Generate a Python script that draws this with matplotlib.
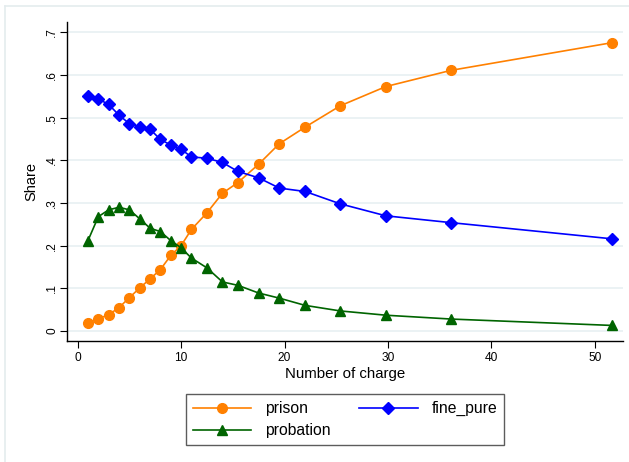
import matplotlib.pyplot as plt
from matplotlib.lines import Line2D

# mean number of charges per group
charges = [1, 2, 3, 4, 5, 6, 7, 8, 9, 10, 11, 12.5, 14, 15.5, 17.5, 19.5,
           22, 25.4, 29.8, 36.1, 51.7]

prison = [0.018, 0.029, 0.038, 0.055, 0.078, 0.101, 0.122, 0.144, 0.177, 0.200,
          0.238, 0.277, 0.323, 0.348, 0.391, 0.439, 0.478, 0.528, 0.573, 0.611, 0.676]
probation = [0.212, 0.268, 0.284, 0.290, 0.284, 0.263, 0.241, 0.233, 0.212, 0.195,
             0.171, 0.148, 0.115, 0.107, 0.089, 0.077, 0.060, 0.047, 0.037, 0.028, 0.013]
fine_pure = [0.550, 0.544, 0.531, 0.506, 0.486, 0.479, 0.473, 0.449, 0.436, 0.426,
             0.408, 0.405, 0.395, 0.374, 0.359, 0.335, 0.327, 0.298, 0.270, 0.254, 0.216]

yticks = [0, 0.1, 0.2, 0.3, 0.4, 0.5, 0.6, 0.7]
ytick_labels = ['0', '.1', '.2', '.3', '.4', '.5', '.6', '.7']
xticks = [0, 10, 20, 30, 40, 50]

plt.rcParams['font.family'] = ['Liberation Sans', 'DejaVu Sans']

fig = plt.figure(figsize=(6.29, 4.62), dpi=100)
ax = fig.add_axes([0.107, 0.2626, 0.883, 0.6904])

# light outer frame (graph region border)
frame = '#e4ecee'
fig.add_artist(Line2D([5 / 629, 5 / 629], [0, 1 - 6 / 462], color=frame, lw=1.2,
                      transform=fig.transFigure))
fig.add_artist(Line2D([5 / 629, 1], [1 - 6 / 462, 1 - 6 / 462], color=frame, lw=1.2,
                      transform=fig.transFigure))

ax.plot(charges, prison, color='#ff8000', marker='o', markersize=7, lw=1.2,
        label='prison')
ax.plot(charges, probation, color='#006400', marker='^', markersize=7.5, lw=1.2,
        label='probation')
ax.plot(charges, fine_pure, color='#0000ff', marker='D', markersize=6, lw=1.2,
        label='fine_pure')

ax.set_xlim(-1, 52.7)
ax.set_ylim(-0.0227, 0.725)
ax.set_xticks(xticks)
ax.set_yticks(yticks)
ax.set_yticklabels(ytick_labels, rotation=90, va='center')
ax.tick_params(direction='out', length=5, width=0.8, labelsize=8.6, colors='black',
               pad=3)
ax.tick_params(axis='y', pad=1.5)

ax.grid(True, axis='y', color='#e8f0f2', lw=1.2)
ax.set_axisbelow(True)
for s in ['top', 'right']:
    ax.spines[s].set_visible(False)
for s in ['left', 'bottom']:
    ax.spines[s].set_linewidth(1.0)

ax.set_xlabel('Number of charge', fontsize=10.8)
ax.set_ylabel('Share', fontsize=10.5)
ax.xaxis.set_label_coords(0.5, -0.083)
ax.yaxis.set_label_coords(-0.052, 0.5)

leg = ax.legend(loc='upper center', bbox_to_anchor=(0.5, -0.167), ncol=2,
                fontsize=11.3, handlelength=3.7, handletextpad=0.9,
                columnspacing=1.85, frameon=True, fancybox=False,
                edgecolor='#333333', borderpad=0.45, labelspacing=0.45,
                borderaxespad=0)
leg.get_frame().set_linewidth(1.0)

fig.savefig('out.png', dpi=100, facecolor='white')
